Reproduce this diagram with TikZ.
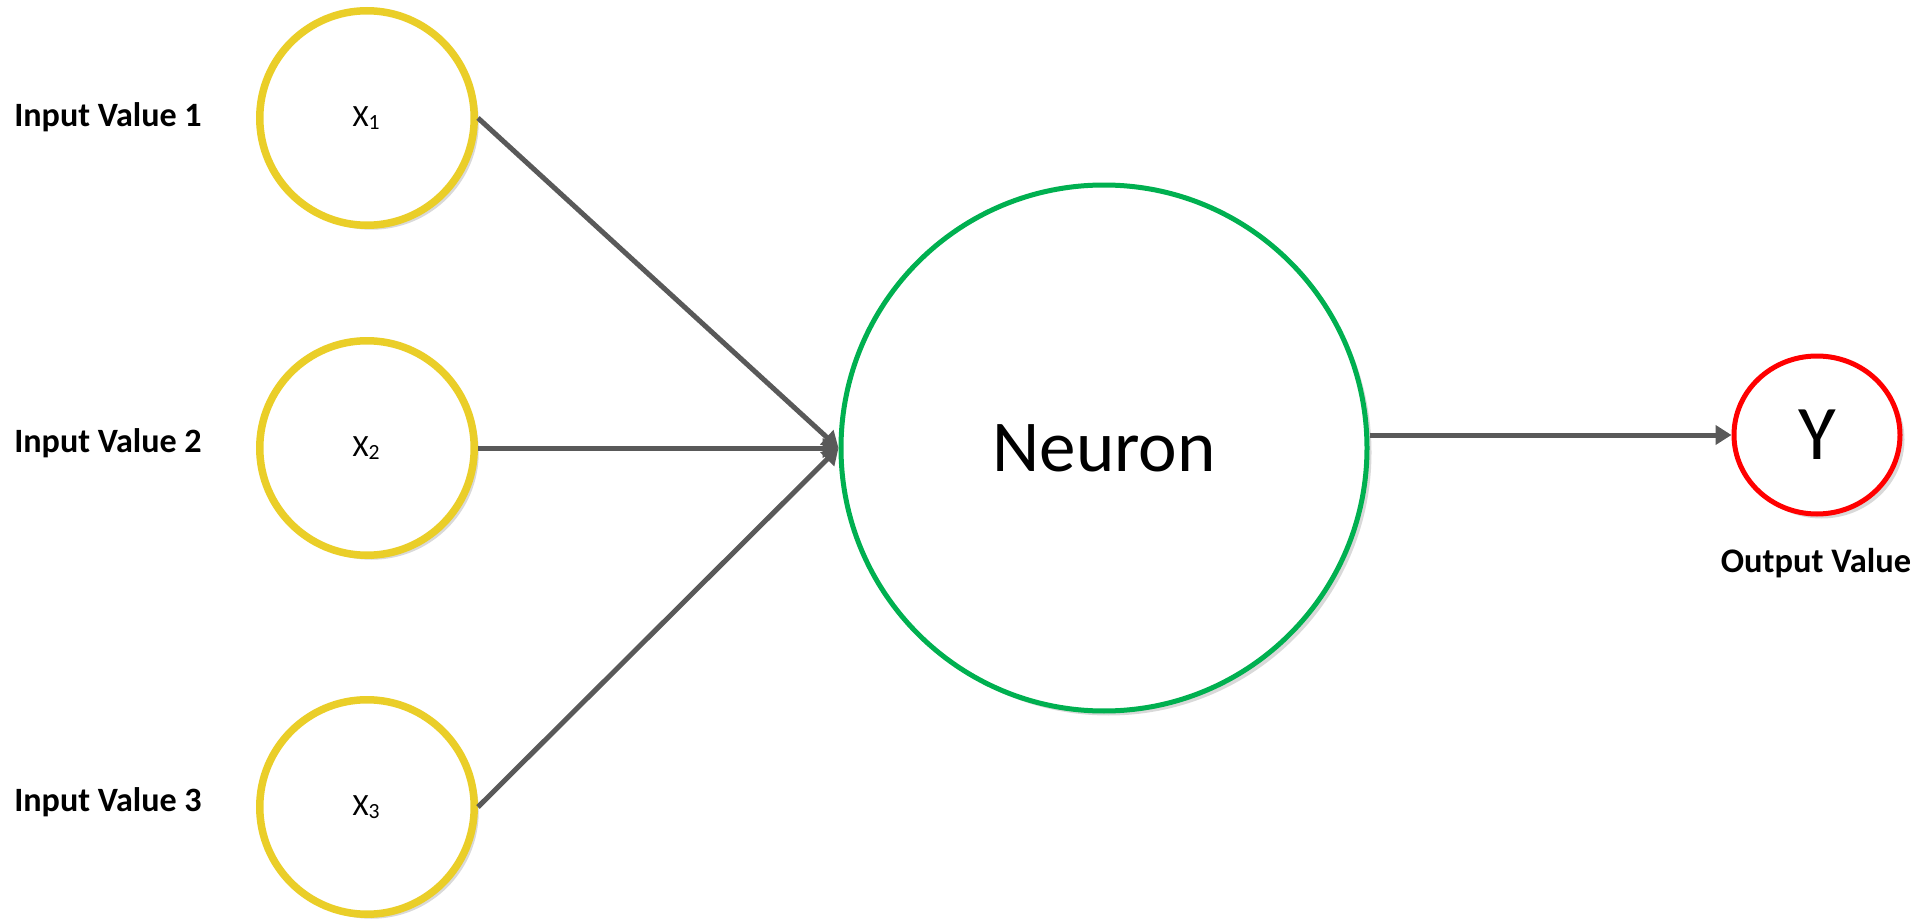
\documentclass[tikz,border=0pt]{standalone}
\usepackage{fontspec}
\setmainfont{Carlito}
\usetikzlibrary{arrows.meta,shapes.geometric,shadows}
\definecolor{inyellow}{RGB}{234,206,40}
\definecolor{nrngreen}{RGB}{0,176,80}
\definecolor{outred}{RGB}{255,0,0}
\definecolor{arrgray}{RGB}{89,89,89}
\begin{document}
\begin{tikzpicture}[x=0.1mm,y=-0.1mm,
  shd/.style={drop shadow={shadow xshift=0.45mm,shadow yshift=-0.45mm,opacity=0.3}},
  innode/.style={circle, draw=inyellow, line width=0.75mm, fill=white, minimum size=21.45mm, inner sep=0pt, shd, font=\fontsize{8.8}{10}\selectfont},
  inlab/.style={anchor=base, font=\fontsize{9.7}{11}\selectfont\bfseries},
  arr/.style={draw=arrgray, line width=0.5mm, -{Triangle[length=1.6mm,width=1.9mm]}}]
\useasboundingbox (0,0) rectangle (1926,923);
\node[innode] (in1) at (367,118){X\textsubscript{1}};
\node[innode] (in2) at (367,448){X\textsubscript{2}};
\node[innode] (in3) at (367,807){X\textsubscript{3}};
\node[inlab] (lab1) at (108,127){Input Value 1};
\node[inlab] (lab2) at (108,452){Input Value 2};
\node[inlab] (lab3) at (108,811){Input Value 3};
\node[circle, draw=nrngreen, line width=0.5mm, fill=white, minimum size=52.6mm, inner sep=0pt, shd, font=\fontsize{20.8}{24}\selectfont] (nrn) at (1104,448){Neuron};
\node[ellipse, draw=outred, line width=0.5mm, fill=white, minimum width=16.6mm, minimum height=15.8mm, inner sep=0pt, shd, font=\fontsize{22}{26}\selectfont] (out) at (1817,435){Y};
\node[inlab, font=\fontsize{9.8}{12}\selectfont\bfseries] (outlab) at (1816,572){Output Value};
\draw[arr](in1.east) -- (nrn.west);
\draw[arr](in2.east) -- (nrn.west);
\draw[arr](in3.east) -- (nrn.west);
\draw[arr](nrn.east |- out.west) -- (out.west);
\end{tikzpicture}
\end{document}
